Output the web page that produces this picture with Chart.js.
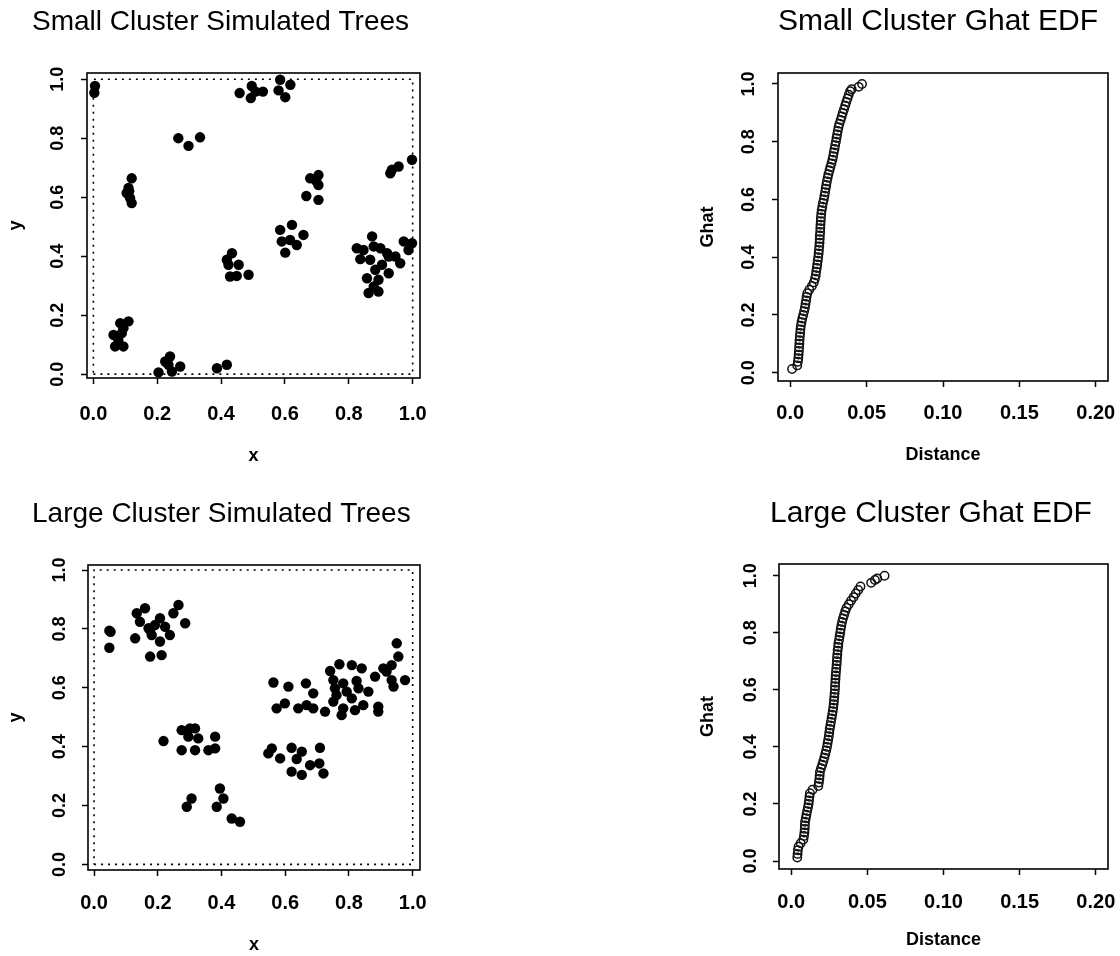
<!DOCTYPE html>
<html>
<head>
<meta charset="utf-8">
<script src="https://cdn.jsdelivr.net/npm/chart.js@4.4.1/dist/chart.umd.min.js"></script>
<style>
  body { margin: 0; background: #fff; }
  canvas { position: absolute; }
</style>
</head>
<body>
<canvas id="tl" width="540" height="478" style="left:0;top:0"></canvas>
<canvas id="tr" width="560" height="478" style="left:560px;top:0"></canvas>
<canvas id="bl" width="540" height="478" style="left:0;top:478px"></canvas>
<canvas id="br" width="560" height="478" style="left:560px;top:478px"></canvas>
<script>
// small cluster tree locations
const smallX = [0.005, 0.003,
  0.458, 0.496, 0.493, 0.508, 0.531,
  0.585, 0.617, 0.580, 0.601,
  0.266, 0.298, 0.334,
  0.120, 0.110, 0.104, 0.115, 0.120, 0.112,
  0.679, 0.705, 0.705, 0.667, 0.705, 0.698,
  0.935, 0.956, 0.930, 0.998,
  0.585, 0.622, 0.658, 0.590, 0.616, 0.637, 0.601,
  0.434, 0.418, 0.423, 0.455, 0.428, 0.449, 0.486,
  0.825, 0.873, 0.899, 0.836, 0.867, 0.883, 0.857, 0.893, 0.862, 0.893, 0.925,
  0.925, 0.961, 0.946, 0.972, 0.998, 0.987, 0.920, 0.878, 0.904, 0.878, 0.846,
  0.084, 0.110, 0.063, 0.089, 0.068, 0.094, 0.078, 0.094,
  0.204, 0.240, 0.235, 0.272, 0.246, 0.225,
  0.387, 0.418];
const smallY = [0.977, 0.954,
  0.953, 0.977, 0.936, 0.958, 0.958,
  0.998, 0.981, 0.962, 0.939,
  0.800, 0.774, 0.803,
  0.664, 0.631, 0.614, 0.597, 0.580, 0.620,
  0.664, 0.675, 0.641, 0.604, 0.591, 0.655,
  0.693, 0.704, 0.681, 0.727,
  0.489, 0.506, 0.472, 0.450, 0.455, 0.438, 0.412,
  0.410, 0.388, 0.371, 0.371, 0.331, 0.333, 0.337,
  0.427, 0.467, 0.427, 0.390, 0.388, 0.354, 0.325, 0.320, 0.275, 0.280, 0.399,
  0.342, 0.376, 0.399, 0.450, 0.444, 0.421, 0.410, 0.433, 0.371, 0.297, 0.421,
  0.173, 0.179, 0.133, 0.139, 0.094, 0.094, 0.116, 0.156,
  0.006, 0.060, 0.032, 0.026, 0.009, 0.043,
  0.020, 0.032];

// large cluster tree locations
const largeX = [0.048, 0.052, 0.048,
  0.134, 0.160, 0.144, 0.129, 0.176, 0.191, 0.207, 0.181, 0.207, 0.176, 0.212,
  0.238, 0.249, 0.265, 0.286, 0.223, 0.171,
  0.218, 0.275, 0.317, 0.296, 0.327, 0.275, 0.317, 0.359, 0.380, 0.380, 0.301,
  0.306, 0.291, 0.395, 0.406, 0.385, 0.432, 0.458,
  0.558, 0.547, 0.584, 0.620, 0.652, 0.636, 0.678, 0.709, 0.707, 0.720, 0.620, 0.652,
  0.563, 0.610, 0.665, 0.688, 0.599, 0.573, 0.641, 0.667, 0.688, 0.725,
  0.741, 0.770, 0.809, 0.840, 0.751, 0.782, 0.824, 0.756, 0.761, 0.751,
  0.793, 0.809, 0.782, 0.777, 0.819, 0.845, 0.861, 0.830, 0.892, 0.892,
  0.882, 0.908, 0.934, 0.955, 0.950, 0.934, 0.940, 0.976, 0.918];
const largeY = [0.794, 0.790, 0.736,
  0.853, 0.870, 0.824, 0.768, 0.796, 0.813, 0.836, 0.779, 0.757, 0.706, 0.711,
  0.779, 0.853, 0.881, 0.819, 0.807, 0.802,
  0.419, 0.456, 0.462, 0.434, 0.428, 0.388, 0.388, 0.388, 0.394, 0.434, 0.462,
  0.224, 0.196, 0.258, 0.224, 0.196, 0.156, 0.145,
  0.394, 0.377, 0.360, 0.396, 0.383, 0.358, 0.337, 0.396, 0.343, 0.309, 0.315, 0.304,
  0.618, 0.604, 0.615, 0.581, 0.547, 0.530, 0.530, 0.541, 0.530, 0.519,
  0.657, 0.680, 0.677, 0.666, 0.626, 0.615, 0.623, 0.598, 0.575, 0.553,
  0.587, 0.564, 0.530, 0.507, 0.524, 0.541, 0.587, 0.598, 0.536, 0.519,
  0.638, 0.666, 0.677, 0.706, 0.751, 0.626, 0.604, 0.626, 0.655];

// study window outline
const windowX = [0, 1, 1, 0, 0];
const windowY = [0, 0, 1, 1, 0];

// Ghat EDF, small cluster
const smallDist = [0.0012, 0.0046, 0.0050, 0.0053, 0.0055, 0.0057, 0.0058, 0.0060, 0.0061, 0.0063,
  0.0065, 0.0067, 0.0070, 0.0074, 0.0079, 0.0085, 0.0091, 0.0096, 0.0100, 0.0104,
  0.0107, 0.0112, 0.0125, 0.0142, 0.0154, 0.0162, 0.0167, 0.0170, 0.0174, 0.0177,
  0.0180, 0.0183, 0.0186, 0.0188, 0.0190, 0.0192, 0.0193, 0.0194, 0.0196, 0.0197,
  0.0198, 0.0200, 0.0201, 0.0203, 0.0206, 0.0210, 0.0214, 0.0220, 0.0224, 0.0228,
  0.0232, 0.0236, 0.0240, 0.0245, 0.0250, 0.0257, 0.0263, 0.0270, 0.0276, 0.0281,
  0.0285, 0.0290, 0.0294, 0.0299, 0.0303, 0.0307, 0.0311, 0.0316, 0.0322, 0.0330,
  0.0337, 0.0344, 0.0352, 0.0360, 0.0367, 0.0375, 0.0383, 0.0392, 0.0402, 0.0448,
  0.0470];
const smallGhat = [0.0125, 0.025, 0.0375, 0.05, 0.0625, 0.075, 0.0875, 0.1, 0.1125, 0.125,
  0.1375, 0.15, 0.1625, 0.175, 0.1875, 0.2, 0.2125, 0.225, 0.2375, 0.25,
  0.2625, 0.275, 0.2875, 0.3, 0.3125, 0.325, 0.3375, 0.35, 0.3625, 0.375,
  0.3875, 0.4, 0.4125, 0.425, 0.4375, 0.45, 0.4625, 0.475, 0.4875, 0.5,
  0.5125, 0.525, 0.5375, 0.55, 0.5625, 0.575, 0.5875, 0.6, 0.6125, 0.625,
  0.6375, 0.65, 0.6625, 0.675, 0.6875, 0.7, 0.7125, 0.725, 0.7375, 0.75,
  0.7625, 0.775, 0.7875, 0.8, 0.8125, 0.825, 0.8375, 0.85, 0.8625, 0.875,
  0.8875, 0.9, 0.9125, 0.925, 0.9375, 0.95, 0.9625, 0.975, 0.982, 0.99,
  1.0];

// Ghat EDF, large cluster
const largeDist = [0.0040, 0.0042, 0.0044, 0.0048, 0.0062, 0.0080, 0.0084, 0.0087, 0.0089, 0.0090,
  0.0091, 0.0096, 0.0100, 0.0105, 0.0110, 0.0114, 0.0117, 0.0120, 0.0123, 0.0140,
  0.0178, 0.0182, 0.0185, 0.0187, 0.0189, 0.0196, 0.0204, 0.0211, 0.0218, 0.0224,
  0.0230, 0.0235, 0.0239, 0.0243, 0.0247, 0.0250, 0.0253, 0.0257, 0.0261, 0.0265,
  0.0269, 0.0273, 0.0276, 0.0279, 0.0281, 0.0283, 0.0285, 0.0287, 0.0288, 0.0289,
  0.0291, 0.0292, 0.0294, 0.0296, 0.0298, 0.0300, 0.0301, 0.0303, 0.0305, 0.0308,
  0.0310, 0.0314, 0.0318, 0.0322, 0.0325, 0.0329, 0.0334, 0.0340, 0.0347, 0.0355,
  0.0364, 0.0378, 0.0393, 0.0410, 0.0424, 0.0440, 0.0455, 0.0525, 0.0550, 0.0565,
  0.0613];
const largeGhat = [0.0125, 0.025, 0.0375, 0.05, 0.0625, 0.075, 0.0875, 0.1, 0.1125, 0.125,
  0.1375, 0.15, 0.1625, 0.175, 0.1875, 0.2, 0.2125, 0.225, 0.2375, 0.25,
  0.2625, 0.275, 0.2875, 0.3, 0.3125, 0.325, 0.3375, 0.35, 0.3625, 0.375,
  0.3875, 0.4, 0.4125, 0.425, 0.4375, 0.45, 0.4625, 0.475, 0.4875, 0.5,
  0.5125, 0.525, 0.5375, 0.55, 0.5625, 0.575, 0.5875, 0.6, 0.6125, 0.625,
  0.6375, 0.65, 0.6625, 0.675, 0.6875, 0.7, 0.7125, 0.725, 0.7375, 0.75,
  0.7625, 0.775, 0.7875, 0.8, 0.8125, 0.825, 0.8375, 0.85, 0.8625, 0.875,
  0.8875, 0.9, 0.9125, 0.925, 0.9375, 0.95, 0.9625, 0.975, 0.985, 0.99,
  1.0];

// tick labels
const unitTicks = [0, 0.2, 0.4, 0.6, 0.8, 1.0];
const unitLabels = ['0.0', '0.2', '0.4', '0.6', '0.8', '1.0'];
const distTicks = [0, 0.05, 0.10, 0.15, 0.20];
const distLabels = ['0.0', '0.05', '0.10', '0.15', '0.20'];

const FONT = "'Liberation Sans', Arial, Helvetica, sans-serif";

function pts(xs, ys) {
  return xs.map((x, i) => ({ x: x, y: ys[i] }));
}

// draws the panel title and the box around the plot region
const panelDecor = {
  id: 'panelDecor',
  afterDraw(chart, args, opts) {
    const ctx = chart.ctx;
    const a = chart.chartArea;
    ctx.save();
    ctx.strokeStyle = '#000';
    ctx.lineWidth = 1.6;
    ctx.strokeRect(a.left, a.top, a.right - a.left, a.bottom - a.top);
    ctx.fillStyle = '#000';
    ctx.font = opts.size + 'px ' + FONT;
    ctx.textAlign = opts.align;
    ctx.textBaseline = 'middle';
    ctx.fillText(opts.text, opts.x, opts.y);
    ctx.restore();
  }
};

function makeAxis(cfg) {
  return {
    type: 'linear',
    min: cfg.min,
    max: cfg.max,
    afterBuildTicks: s => { s.ticks = cfg.ticks.map(v => ({ value: v })); },
    afterFit: s => {
      if (cfg.width) s.width = cfg.width;
      if (cfg.height) s.height = cfg.height;
      s.paddingLeft = 0; s.paddingRight = 0; s.paddingTop = 0; s.paddingBottom = 0;
    },
    grid: { display: true, drawOnChartArea: false, drawTicks: true, tickLength: 6, tickColor: '#000', tickWidth: 1.5 },
    border: { display: false },
    ticks: {
      autoSkip: false,
      color: '#000',
      padding: cfg.tickPad,
      minRotation: cfg.rot || 0,
      maxRotation: cfg.rot || 0,
      crossAlign: cfg.rot ? 'center' : 'near',
      font: { family: FONT, size: cfg.tickSize, weight: 'bold' },
      callback: (v, i) => cfg.labels[i]
    },
    title: {
      display: true,
      text: cfg.title,
      color: '#000',
      font: { family: FONT, size: 18, weight: 'bold' },
      padding: cfg.titlePad
    }
  };
}

function makeChart(id, opt) {
  return new Chart(document.getElementById(id), {
    type: 'scatter',
    data: { datasets: opt.datasets },
    options: {
      responsive: false,
      animation: false,
      layout: { padding: opt.padding },
      plugins: {
        legend: { display: false },
        tooltip: { enabled: false },
        panelDecor: opt.heading
      },
      scales: { x: makeAxis(opt.x), y: makeAxis(opt.y) }
    },
    plugins: [panelDecor]
  });
}

function treeSets(xs, ys) {
  return [
    {
      type: 'line', data: pts(windowX, windowY), showLine: true, pointRadius: 0,
      borderColor: '#000', borderWidth: 1.6, borderDash: [2, 5], fill: false
    },
    {
      data: pts(xs, ys), pointRadius: 5.2, pointBorderWidth: 0,
      pointBackgroundColor: '#000', pointBorderColor: '#000'
    }
  ];
}

function edfSets(d, g) {
  return [{
    data: pts(d, g), pointRadius: 4.2, pointBorderWidth: 1.5,
    pointBorderColor: '#111', pointBackgroundColor: 'rgba(0,0,0,0)'
  }];
}

makeChart('tl', {
  datasets: treeSets(smallX, smallY),
  padding: { left: 0, top: 73, right: 120, bottom: 0 },
  heading: { text: 'Small Cluster Simulated Trees', x: 32, y: 22, align: 'left', size: 28 },
  x: { min: -0.02, max: 1.023, ticks: unitTicks, labels: unitLabels, tickSize: 20, tickPad: 18,
       title: 'x', titlePad: { top: 0, bottom: 11 }, height: 100 },
  y: { min: -0.013, max: 1.021, ticks: unitTicks, labels: unitLabels, tickSize: 18, tickPad: 10.5, rot: 90,
       title: 'y', titlePad: { top: 5, bottom: 0 }, width: 87 }
});

makeChart('bl', {
  datasets: treeSets(largeX, largeY),
  padding: { left: 0, top: 87, right: 120, bottom: 0 },
  heading: { text: 'Large Cluster Simulated Trees', x: 32, y: 36, align: 'left', size: 28 },
  x: { min: -0.019, max: 1.023, ticks: unitTicks, labels: unitLabels, tickSize: 20, tickPad: 15,
       title: 'x', titlePad: { top: 0, bottom: 0 }, height: 86 },
  y: { min: -0.019, max: 1.017, ticks: unitTicks, labels: unitLabels, tickSize: 18, tickPad: 9.5, rot: 90,
       title: 'y', titlePad: { top: 5, bottom: 0 }, width: 88 }
});

makeChart('tr', {
  datasets: edfSets(smallDist, smallGhat),
  padding: { left: 130, top: 73, right: 12, bottom: 0 },
  heading: { text: 'Small Cluster Ghat EDF', x: 378, y: 22, align: 'center', size: 30 },
  x: { min: -0.008, max: 0.208, ticks: distTicks, labels: distLabels, tickSize: 20, tickPad: 14,
       title: 'Distance', titlePad: { top: 0, bottom: 12 }, height: 97 },
  y: { min: -0.029, max: 1.038, ticks: unitTicks, labels: unitLabels, tickSize: 18, tickPad: 10.5, rot: 90,
       title: 'Ghat', titlePad: { top: 7, bottom: 0 }, width: 88 }
});

makeChart('br', {
  datasets: edfSets(largeDist, largeGhat),
  padding: { left: 130, top: 86, right: 12, bottom: 0 },
  heading: { text: 'Large Cluster Ghat EDF', x: 371, y: 36, align: 'center', size: 30 },
  x: { min: -0.008, max: 0.208, ticks: distTicks, labels: distLabels, tickSize: 20, tickPad: 15,
       title: 'Distance', titlePad: { top: 0, bottom: 5 }, height: 87 },
  y: { min: -0.028, max: 1.041, ticks: unitTicks, labels: unitLabels, tickSize: 18, tickPad: 9.5, rot: 90,
       title: 'Ghat', titlePad: { top: 7, bottom: 0 }, width: 89 }
});
</script>
</body>
</html>
